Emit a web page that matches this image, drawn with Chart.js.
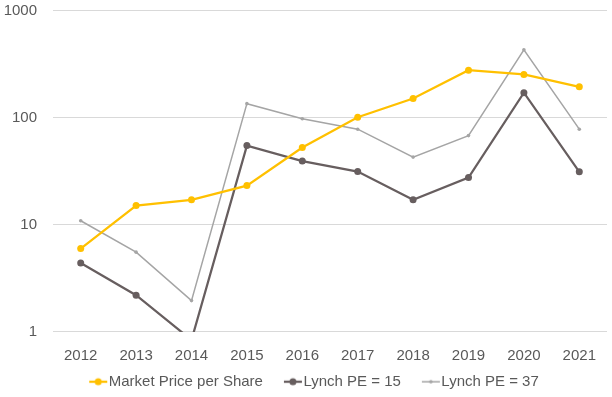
<!DOCTYPE html>
<html>
<head>
<meta charset="utf-8">
<script src="https://cdn.jsdelivr.net/npm/chart.js@4"></script>
<style>
  html, body { margin: 0; padding: 0; background: #fff; }
  #wrap { width: 612px; height: 397px; }
</style>
</head>
<body>
<div id="wrap"><canvas id="chart" width="612" height="397"></canvas></div>
<script>
const years = ["2012", "2013", "2014", "2015", "2016", "2017", "2018", "2019", "2020", "2021"];
const marketPrice = [6.0, 15.1, 17.1, 23.2, 52.6, 101, 151, 277, 253, 194];
const lynchPE15 = [4.4, 2.2, 0.84, 54.8, 39.3, 31.4, 17.1, 27.6, 171, 31.2];
const lynchPE37 = [10.9, 5.55, 1.96, 135, 97.5, 78, 42.8, 68, 430, 78];
const yTicks = [1, 10, 100, 1000];

const textColor = "#595959";
const gridColor = "#D9D9D9";
const font = { family: "Liberation Sans", size: 15 };

const legendPad = 4;
const legendBox = 29;

// line + dot image for the legend; transparent on the left so the
// mark sits right before its text
function legendMark(color, dot, lineWidth) {
    const c = document.createElement("canvas");
    c.width = legendBox + 14;
    c.height = 10;
    const ctx = c.getContext("2d");
    ctx.strokeStyle = color;
    ctx.lineWidth = lineWidth;
    ctx.beginPath();
    ctx.moveTo(c.width - 19, 5);
    ctx.lineTo(c.width - 1, 5);
    ctx.stroke();
    ctx.fillStyle = color;
    ctx.beginPath();
    ctx.arc(c.width - 10, 5, dot, 0, Math.PI * 2);
    ctx.fill();
    return c;
}

const series = [
    { label: "Market Price per Share", data: marketPrice, color: "#FFC000", width: 2.25, radius: 3.5 },
    { label: "Lynch PE = 15", data: lynchPE15, color: "#675E5F", width: 2.25, radius: 3.5 },
    { label: "Lynch PE = 37", data: lynchPE37, color: "#A5A5A5", width: 1.5, radius: 1.8 },
];

new Chart(document.getElementById("chart"), {
    type: "line",
    data: {
        labels: years,
        datasets: series.map((s) => ({
            label: s.label,
            data: s.data,
            borderColor: s.color,
            backgroundColor: s.color,
            borderWidth: s.width,
            pointRadius: s.radius,
            pointBorderWidth: 0,
            pointStyle: "circle",
            tension: 0,
            fill: false,
            legendImg: legendMark(s.color, s.radius, s.width),
        })),
    },
    options: {
        responsive: false,
        animation: false,
        layout: { padding: { left: 4, right: 5, top: 10.5, bottom: -2.2 } },
        plugins: {
            legend: {
                position: "bottom",
                labels: {
                    color: textColor,
                    font: font,
                    usePointStyle: true,
                    pointStyleWidth: legendBox,
                    padding: legendPad,
                    generateLabels: (chart) => chart.data.datasets.map((ds, i) => ({
                        text: ds.label,
                        pointStyle: ds.legendImg,
                        fontColor: textColor,
                        lineWidth: 0,
                        datasetIndex: i,
                    })),
                },
            },
            tooltip: { enabled: false },
        },
        scales: {
            x: {
                offset: true,
                grid: { display: false, drawTicks: false },
                border: { display: false },
                ticks: {
                    color: textColor,
                    font: font,
                    padding: 15,
                    maxRotation: 0,
                },
                afterFit: (axis) => { axis.height = 38.3; },
            },
            y: {
                type: "logarithmic",
                min: 1,
                max: 1000,
                afterBuildTicks: (axis) => {
                    axis.ticks = yTicks.map((v) => ({ value: v }));
                },
                grid: { color: gridColor, lineWidth: 1, drawTicks: false },
                border: { display: false },
                ticks: {
                    color: textColor,
                    font: font,
                    padding: 16,
                    callback: (v) => String(v),
                },
                afterFit: (axis) => {
                    axis.width = 49;
                    // tick padding should not push the plot down from the top
                    axis.paddingTop = 9;
                    axis.paddingBottom = 9;
                },
            },
        },
    },
});
</script>
</body>
</html>
